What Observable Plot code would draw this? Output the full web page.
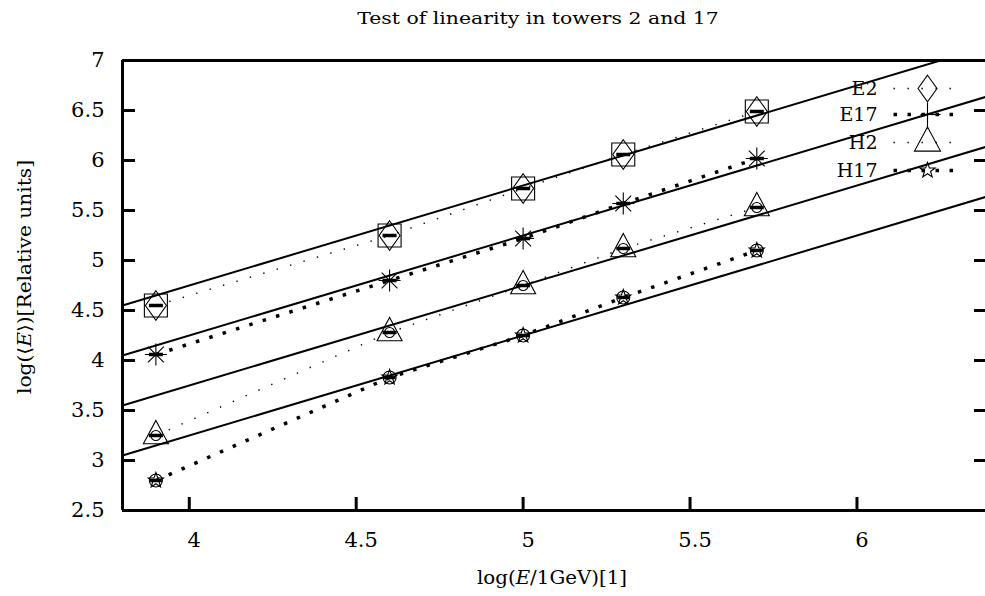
<!DOCTYPE html>
<html><head><meta charset="utf-8">
<script src="https://cdn.jsdelivr.net/npm/d3@7"></script>
<script src="https://cdn.jsdelivr.net/npm/@observablehq/plot@0.6"></script>
<style>
body{margin:0;background:#fff;overflow:hidden}
#wrap{position:relative;width:985px;height:596px;font-family:"DejaVu Serif",serif;color:#000;overflow:hidden}
#chart{position:absolute;left:0;top:0}
.lbl{position:absolute;white-space:nowrap;line-height:1}
#title{top:10px;left:538px;transform:translateX(-50%) scaleX(1.2);font-size:17px}
#xlabel{top:569px;left:552px;transform:translateX(-50%) scaleX(1.1);font-size:18px}
#ylabel{left:25px;top:277px;transform:translate(-50%,-50%) rotate(-90deg) scaleX(1.12);font-size:18px}
</style></head><body>
<div id="wrap">
<div id="chart"></div>
<div id="title" class="lbl">Test of linearity in towers 2 and 17</div>
<div id="xlabel" class="lbl">log(<i>E</i>/1GeV)[1]</div>
<div id="ylabel" class="lbl">log(⟨<i>E</i>⟩)[Relative units]</div>
</div>
<script>
// ---- data ----
const energies = [3.9, 4.6, 5.0, 5.3, 5.7];
const e2Values = [4.55, 5.25, 5.72, 6.06, 6.49];
const e17Values = [4.06, 4.80, 5.22, 5.57, 6.02];
const h2Values = [3.25, 4.28, 4.75, 5.12, 5.53];
const h17Values = [2.80, 3.83, 4.25, 4.63, 5.10];
const seriesNames = ["E2", "E17", "H2", "H17"];
// straight reference lines: values at x = 3.8 and x = 6.4
const fitX = [3.8, 6.4];
const fitE2 = [4.55, 7.15];
const fitE17 = [4.05, 6.65];
const fitH2 = [3.55, 6.15];
const fitH17 = [3.05, 5.65];
const xTicks = [4, 4.5, 5, 5.5, 6];
const yTicks = [2.5, 3, 3.5, 4, 4.5, 5, 5.5, 6, 6.5, 7];

// ---- tables built from the arrays ----
const tbl = (ys) => energies.map((x, i) => ({x, y: ys[i]}));
const fitTbl = (ys) => fitX.map((x, i) => ({x, y: ys[i]}));
const E2 = tbl(e2Values), E17 = tbl(e17Values), H2 = tbl(h2Values), H17 = tbl(h17Values);

// ---- custom symbols (size -> radius r in px) ----
const sym = (fn) => ({draw(c, size) { fn(c, Math.sqrt(size / Math.PI)); }});
const squareSym = sym((c, r) => { c.moveTo(-r, -r); c.lineTo(r, -r); c.lineTo(r, r); c.lineTo(-r, r); c.closePath(); });
const diamondSym = sym((c, r) => { const h = r * 1.4; c.moveTo(0, -h); c.lineTo(r, 0); c.lineTo(0, h); c.lineTo(-r, 0); c.closePath(); });
const barSym = sym((c, r) => { c.moveTo(-r, 0); c.lineTo(r, 0); });
const asteriskSym = sym((c, r) => { const d = r * 0.72; c.moveTo(0, -r); c.lineTo(0, r); c.moveTo(-d, -d); c.lineTo(d, d); c.moveTo(-d, d); c.lineTo(d, -d); c.moveTo(-r, 0); c.lineTo(r, 0); });
const triangleSym = sym((c, r) => { c.moveTo(0, -1.2 * r); c.lineTo(r, 0.66 * r); c.lineTo(-r, 0.66 * r); c.closePath(); });
const starSym = sym((c, r) => { for (let i = 0; i < 10; i++) { const a = -Math.PI / 2 + i * Math.PI / 5, rr = i % 2 ? r * 0.4 : r; const px = rr * Math.cos(a), py = rr * Math.sin(a); if (i) c.lineTo(px, py); else c.moveTo(px, py); } c.closePath(); });
const vlineSym = sym((c, r) => { c.moveTo(0, -r); c.lineTo(0, r); });

const W = 985, H = 596, mL = 122, mT = 60, mB = 86;
const frameW = W - mL, frameH = H - mT - mB;

const smallDots = {stroke: "black", strokeWidth: 1.4, strokeDasharray: "1.4,12.6", strokeLinecap: "butt"};
const bigDots = {stroke: "black", strokeWidth: 3.5, strokeDasharray: "3.5,10.5", strokeLinecap: "butt"};
const open = {fill: "none", stroke: "black", strokeWidth: 1.1};
const bar = {symbol: barSym, r: 7, fill: "none", stroke: "black", strokeWidth: 3.5};

const marks = [];
// fit lines
for (const f of [fitE2, fitE17, fitH2, fitH17]) marks.push(Plot.line(fitTbl(f), {x: "x", y: "y", stroke: "black", strokeWidth: 2, clip: true}));
// dotted connecting lines
marks.push(Plot.line(E2, {x: "x", y: "y", ...smallDots}));
marks.push(Plot.line(E17, {x: "x", y: "y", ...bigDots}));
marks.push(Plot.line(H2, {x: "x", y: "y", ...smallDots}));
marks.push(Plot.line(H17, {x: "x", y: "y", ...bigDots}));
// markers
marks.push(Plot.dot(E2, {x: "x", y: "y", symbol: squareSym, r: 11.5, ...open}));
marks.push(Plot.dot(E2, {x: "x", y: "y", symbol: diamondSym, r: 10.5, ...open}));
marks.push(Plot.dot(E2, {x: "x", y: "y", ...bar}));
marks.push(Plot.dot(E17, {x: "x", y: "y", symbol: asteriskSym, r: 11, ...open}));
marks.push(Plot.dot(E17, {x: "x", y: "y", ...bar}));
marks.push(Plot.dot(H2, {x: "x", y: "y", symbol: triangleSym, r: 12.5, ...open}));
marks.push(Plot.dot(H2, {x: "x", y: "y", r: 5, ...open}));
marks.push(Plot.dot(H2, {x: "x", y: "y", ...bar}));
marks.push(Plot.dot(H17, {x: "x", y: "y", r: 6.5, ...open}));
marks.push(Plot.dot(H17, {x: "x", y: "y", symbol: starSym, r: 8, ...open}));
marks.push(Plot.dot(H17, {x: "x", y: "y", ...bar, r: 6}));
// frame (left, top, bottom)
marks.push(Plot.ruleX([3.8], {strokeWidth: 3}));
marks.push(Plot.ruleY([2.5], {strokeWidth: 3}));
marks.push(Plot.ruleY([7], {strokeWidth: 3}));
// inward ticks (left, right, bottom)
marks.push(Plot.tickY(yTicks, {y: d => d, insetRight: frameW - 13, strokeWidth: 3}));
marks.push(Plot.tickY(yTicks, {y: d => d, insetLeft: frameW - 11, strokeWidth: 3}));
marks.push(Plot.tickX(xTicks, {x: d => d, insetTop: frameH - 13, strokeWidth: 3}));
// tick labels
marks.push(Plot.axisY(yTicks, {tickSize: 0, tickPadding: 18, label: null, tickFormat: d => String(d), fontSize: 21}));
marks.push(Plot.axisX(xTicks, {tickSize: 0, tickPadding: 22, dx: 5, label: null, tickFormat: d => String(d), fontSize: 21}));

// legend (top right, pixel offsets from the frame's top-left corner)
const legendRows = [28, 54, 82, 110];
const legendMarkers = [
  {symbol: diamondSym, r: 9.5, ...open},
  {symbol: vlineSym, r: 13, ...open},
  {symbol: triangleSym, r: 13, ...open},
  {symbol: starSym, r: 8, ...open}
];
seriesNames.forEach((name, i) => {
  const dy = legendRows[i];
  marks.push(Plot.text([name], {frameAnchor: "top-left", dx: 755, dy, text: d => d, textAnchor: "end", lineAnchor: "middle", fontSize: 19}));
  const dots = i % 2 ? bigDots : smallDots;
  marks.push(Plot.dot([name], {frameAnchor: "top-left", dx: 806, dy, symbol: barSym, r: 35, fill: "none", ...dots}));
  marks.push(Plot.dot([name], {...legendMarkers[i], frameAnchor: "top-left", dx: 805, dy: dy + (i === 1 ? 1 : 0)}));
});
marks.push(Plot.dot(["E17"], {frameAnchor: "top-left", dx: 808, dy: 54, symbol: barSym, r: 10, fill: "none", stroke: "black", strokeWidth: 1.2}));

const chart = Plot.plot({
  width: W, height: H,
  marginLeft: mL, marginRight: 0, marginTop: mT, marginBottom: mB,
  x: {domain: [3.8, 6.385], axis: null},
  y: {domain: [2.5, 7], axis: null},
  style: {fontFamily: "'DejaVu Serif', serif", fontSize: "21px", background: "white", color: "black"},
  marks
});
document.getElementById("chart").appendChild(chart);
</script>
</body></html>
